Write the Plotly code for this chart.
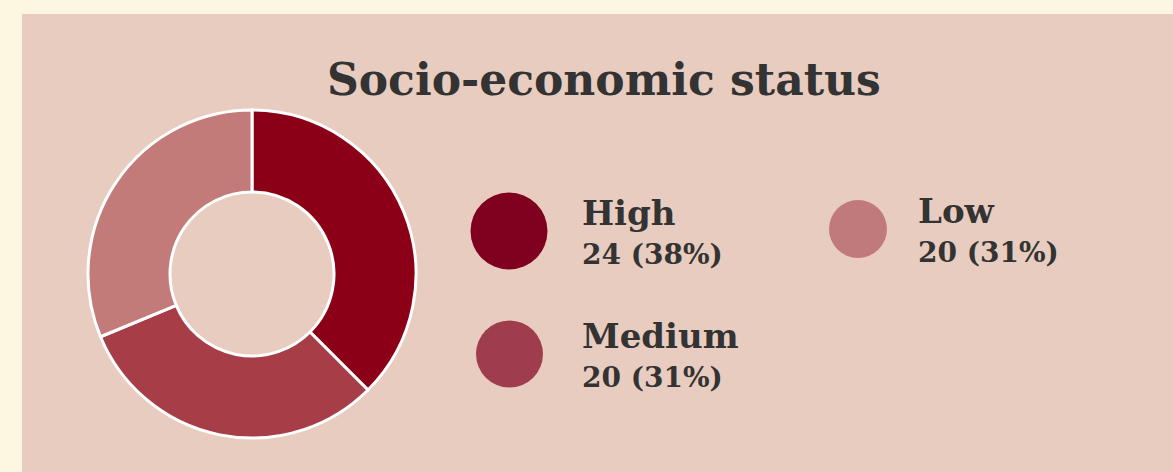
import plotly.graph_objects as go

# Data
categories = ["High", "Medium", "Low"]
counts = [24, 20, 20]
percents = [38, 31, 31]
title_text = "Socio-economic status"

# Styles
W, H = 1173, 472
pie_colors = ["#8b0016", "#a63d47", "#c27b79"]
dot_colors = ["#80001f", "#9f3d4f", "#c07a7c"]
dot_sizes = [77, 67, 58]
dot_pos = [(509, 231), (509.5, 354), (858, 229)]
text_x = [580, 580, 916]
FONT = "DejaVu Serif"
TXT = "#333333"

fig = go.Figure()

fig.add_trace(go.Pie(
    labels=categories, values=counts, hole=0.5, sort=False,
    direction="clockwise", rotation=0,
    marker=dict(colors=pie_colors, line=dict(color="white", width=3)),
    textinfo="none", hoverinfo="label+value+percent", showlegend=False,
    domain=dict(x=[88 / W, 416 / W], y=[1 - 438 / H, 1 - 110 / H]),
))

for i, cat in enumerate(categories):
    cx, cy = dot_pos[i]
    fig.add_trace(go.Scatter(
        x=[cx], y=[cy], mode="markers",
        marker=dict(size=dot_sizes[i], color=dot_colors[i], line=dict(width=0)),
        showlegend=False, hoverinfo="skip", xaxis="x", yaxis="y",
    ))
    fig.add_annotation(
        x=text_x[i], y=cy - 18, xref="x", yref="y", text=f"<b>{cat}</b>",
        showarrow=False, xanchor="left", yanchor="middle",
        font=dict(family=FONT, size=34, color=TXT),
    )
    fig.add_annotation(
        x=text_x[i], y=cy + 23, xref="x", yref="y",
        text=f"<b>{counts[i]} ({percents[i]}%)</b>",
        showarrow=False, xanchor="left", yanchor="middle",
        font=dict(family=FONT, size=28, color=TXT),
    )

fig.add_annotation(
    x=604, y=79, xref="x", yref="y", text=f"<b>{title_text}</b>",
    showarrow=False, xanchor="center", yanchor="middle",
    font=dict(family=FONT, size=44, color=TXT),
)

fig.add_shape(type="rect", xref="x", yref="y", x0=22, x1=W + 10, y0=14, y1=H + 10,
              fillcolor="#e8ccbf", line=dict(width=0), layer="below")

fig.update_layout(
    width=W, height=H, margin=dict(l=0, r=0, t=0, b=0),
    paper_bgcolor="#fdf6e0", plot_bgcolor="rgba(0,0,0,0)",
    xaxis=dict(range=[0, W], visible=False, fixedrange=True, domain=[0, 1]),
    yaxis=dict(range=[H, 0], visible=False, fixedrange=True, domain=[0, 1]),
)

fig.write_html("out.html")
